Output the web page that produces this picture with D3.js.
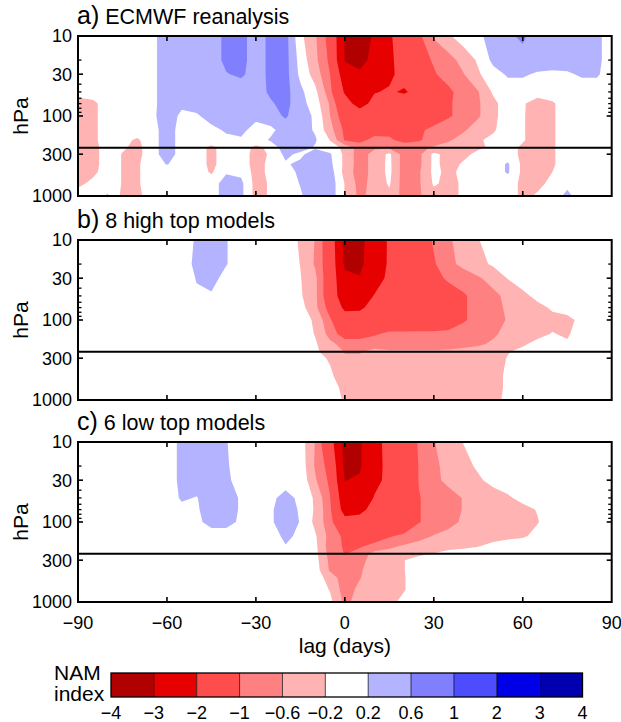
<!DOCTYPE html>
<html>
<head>
<meta charset="utf-8">
<script src="https://cdn.jsdelivr.net/npm/d3@7"></script>
<style>
  body { margin: 0; background: #fff; }
  svg { display: block; }
  text { font-family: "Liberation Sans", Arial, Helvetica, sans-serif; fill: #000; }
</style>
</head>
<body>
<svg id="chart" width="621" height="722"></svg>
<script>
// grid columns (lag, days) and rows (pressure, hPa, top to bottom)
const lags = [-90, -85, -80, -75, -70, -65, -60, -55, -50, -45, -40, -35, -30, -25, -20, -15, -10, -5,
              0, 5, 10, 15, 20, 25, 30, 35, 40, 45, 50, 55, 60, 65, 70, 75, 80, 85, 90];
const levels = [10, 20, 30, 50, 70, 100, 150, 200, 250, 300, 400, 500, 700, 1000];

// NAM index composites, one row per level
const ecmwf = [
  [0, 0, 0, 0, 0, 0.1, 0.4, 0.45, 0.45, 0.4, 0.7, 0.7, 0.45, 0.68, 0.75, -0.1, -0.55, -1.2, -3.05, -3.4, -2.9, -2.1, -1.6, -1.1, -0.55, -0.25, 0, 0.1, 0.4, 0.55, 0.65, 0.45, 0.4, 0.4, 0.4, 0.3, 0],
  [0, 0, 0, 0, 0, 0.1, 0.4, 0.45, 0.45, 0.4, 0.7, 0.7, 0.45, 0.68, 0.75, 0.04, -0.5, -1.1, -3.05, -3.45, -2.59, -2.2, -1.55, -1.2, -0.95, -0.75, -0.45, -0.14, 0.3, 0.45, 0.5, 0.45, 0.4, 0.4, 0.4, 0.3, 0],
  [0, 0, 0, 0, 0, 0.1, 0.4, 0.45, 0.45, 0.45, 0.58, 0.66, 0.45, 0.68, 0.75, 0.1, -0.37, -1.0, -2.52, -2.8, -2.6, -2.2, -1.65, -1.3, -1.05, -0.8, -0.62, -0.25, 0.05, 0.25, 0.25, 0.15, 0.12, 0.15, 0.25, 0.25, 0],
  [0, 0, 0, 0, 0, 0.1, 0.4, 0.4, 0.4, 0.4, 0.4, 0.4, 0.45, 0.66, 0.74, 0.3, -0.1, -0.85, -2.1, -2.6, -2.05, -1.9, -2.1, -1.7, -1.4, -1.1, -0.8, -0.62, -0.15, 0, 0, 0, 0, 0, 0, 0, 0],
  [-0.4, -0.3, 0, 0, 0, 0.1, 0.4, 0.3, 0.35, 0.4, 0.4, 0.4, 0.4, 0.56, 0.72, 0.35, 0, -0.65, -1.6, -2.4, -1.7, -1.6, -1.5, -1.5, -1.4, -1.05, -0.85, -0.65, -0.3, 0, -0.15, -0.4, -0.25, 0, 0, 0, 0],
  [-0.4, -0.3, 0, 0, 0, 0.1, 0.45, 0.1, 0.15, 0.35, 0.4, 0.4, 0.3, 0.45, 0.65, 0.35, 0.15, -0.6, -1.3, -1.4, -1.4, -1.35, -1.35, -1.4, -1.35, -1.05, -0.85, -0.65, -0.3, 0, -0.15, -0.45, -0.25, 0, 0, 0, 0],
  [-0.4, -0.3, 0, 0, 0, 0, 0.45, 0, 0, 0.1, 0.25, 0.3, 0.05, 0.1, 0.4, 0.4, 0.15, -0.45, -1.1, -1.25, -1.15, -1.1, -1.2, -1.1, -0.85, -0.75, -0.65, -0.4, -0.25, 0, -0.15, -0.45, -0.25, 0, 0, 0, 0],
  [-0.4, -0.3, 0, -0.1, -0.25, 0, 0.45, 0, 0, 0, 0.1, 0.15, 0, 0.25, 0.45, 0.4, 0.25, -0.22, -1.05, -1.1, -0.9, -0.95, -1.1, -1.05, -0.8, -0.65, -0.45, -0.25, -0.1, 0, -0.15, -0.45, -0.25, 0, 0, 0, 0],
  [-0.4, -0.35, 0, -0.15, -0.3, 0, 0.45, 0, 0, -0.3, 0, 0, -0.3, -0.1, 0.45, 0.4, 0.15, 0, -0.3, -0.8, -0.65, -0.65, -0.8, -0.7, -0.55, -0.4, -0.3, -0.25, -0.15, 0, -0.3, -0.45, -0.25, 0, 0, 0, 0],
  [-0.4, -0.35, 0, -0.22, -0.3, 0, 0.45, 0, 0, -0.3, 0, 0, -0.35, -0.15, 0.3, 0.1, 0.45, 0.25, -0.3, -0.8, -0.45, -0.12, -0.8, -0.7, -0.1, -0.35, -0.3, -0.1, 0, 0, -0.3, -0.45, -0.25, 0, 0, 0, 0],
  [-0.4, -0.35, 0, -0.22, -0.25, 0, 0.22, 0, 0, -0.3, 0, 0, -0.35, -0.1, 0.15, 0.3, 0.45, 0.3, -0.3, -0.8, -0.45, -0.1, -0.8, -0.7, -0.1, -0.35, -0.15, 0, 0, 0.25, -0.3, -0.45, -0.25, 0, 0, 0, 0],
  [-0.35, -0.3, 0, -0.22, -0.25, 0, 0, 0, 0, -0.25, 0.15, 0.1, -0.35, -0.1, 0, 0.3, 0.45, 0.4, -0.35, -0.8, -0.45, -0.1, -0.8, -0.65, -0.1, -0.3, -0.1, 0, 0, 0.25, -0.3, -0.4, -0.2, 0, 0, 0, 0],
  [-0.3, -0.1, 0, -0.22, -0.25, 0, 0, 0, 0, 0, 0.4, 0.3, -0.35, -0.15, 0, 0.22, 0.45, 0.45, -0.22, -0.75, -0.45, -0.15, -0.8, -0.65, -0.15, -0.3, -0.15, 0, 0, 0, -0.3, -0.3, -0.1, 0.1, 0, 0, 0],
  [0, 0, 0.25, -0.3, -0.3, 0, 0, 0, 0, 0, 0.4, 0.3, -0.35, -0.15, 0, 0.15, 0.45, 0.45, -0.22, -0.7, -0.45, -0.3, -0.75, -0.65, -0.35, -0.3, -0.15, 0, 0, 0, -0.3, -0.15, 0, 0.3, 0, 0, 0]
];

const highTop = [
  [0, 0, 0, 0, 0, 0, 0, 0, 0.25, 0.45, 0.22, 0, 0, 0, 0, -0.25, -0.62, -1.4, -3.3, -3.25, -2.5, -1.9, -1.6, -1.3, -0.95, -0.65, -0.45, -0.22, 0, 0, 0, 0, 0, 0, 0, 0, 0],
  [0, 0, 0, 0, 0, 0, 0, 0, 0.3, 0.45, 0.22, 0, 0, 0, 0, -0.21, -0.65, -1.35, -3.15, -3.2, -2.45, -1.9, -1.6, -1.35, -1.05, -0.7, -0.5, -0.3, -0.15, 0, 0, 0, 0, 0, 0, 0, 0],
  [0, 0, 0, 0, 0, 0, 0, 0, 0.22, 0.35, 0.05, 0, 0, 0, 0, -0.18, -0.5, -1.4, -2.8, -2.95, -2.4, -1.8, -1.6, -1.4, -1.2, -0.9, -0.8, -0.65, -0.45, -0.18, 0, 0, 0, 0, 0, 0, 0],
  [0, 0, 0, 0, 0, 0, 0, 0, 0.15, 0.15, 0, 0, 0, 0, 0, -0.15, -0.5, -1.4, -2.6, -2.5, -1.95, -1.7, -1.6, -1.5, -1.4, -1.3, -1.05, -0.85, -0.7, -0.5, -0.3, -0.1, 0, 0, 0, 0, 0],
  [0, 0, 0, 0, 0, 0, 0, 0, 0, 0, 0, 0, 0, 0, 0, -0.05, -0.5, -1.2, -2.2, -2.15, -1.7, -1.55, -1.5, -1.45, -1.4, -1.3, -1.05, -0.85, -0.7, -0.55, -0.4, -0.3, -0.15, -0.05, 0, 0, 0],
  [0, 0, 0, 0, 0, 0, 0, 0, 0, 0, 0, 0, 0, 0, 0, -0.05, -0.25, -0.95, -1.5, -1.55, -1.5, -1.45, -1.45, -1.4, -1.4, -1.3, -1.05, -0.85, -0.7, -0.58, -0.45, -0.4, -0.3, -0.3, -0.1, 0, 0],
  [0, 0, 0, 0, 0, 0, 0, 0, 0, 0, 0, 0, 0, 0, 0, 0, -0.22, -0.75, -1.25, -1.2, -1.05, -0.9, -0.9, -0.9, -0.9, -0.88, -0.8, -0.75, -0.65, -0.5, -0.4, -0.3, -0.18, -0.25, 0, 0, 0],
  [0, 0, 0, 0, 0, 0, 0, 0, 0, 0, 0, 0, 0, 0, 0, 0, -0.15, -0.5, -0.75, -0.8, -0.75, -0.75, -0.75, -0.75, -0.75, -0.72, -0.7, -0.65, -0.55, -0.4, -0.25, -0.1, 0, -0.15, 0, 0, 0],
  [0, 0, 0, 0, 0, 0, 0, 0, 0, 0, 0, 0, 0, 0, 0, 0, -0.12, -0.4, -0.62, -0.62, -0.5, -0.55, -0.55, -0.55, -0.55, -0.55, -0.5, -0.45, -0.35, -0.22, -0.1, 0, 0, 0, 0, 0, 0],
  [0, 0, 0, 0, 0, 0, 0, 0, 0, 0, 0, 0, 0, 0, 0, 0, -0.05, -0.25, -0.55, -0.55, -0.45, -0.45, -0.45, -0.45, -0.45, -0.45, -0.45, -0.45, -0.35, -0.18, 0, 0, 0, 0, 0, 0, 0],
  [0, 0, 0, 0, 0, 0, 0, 0, 0, 0, 0, 0, 0, 0, 0, 0, 0, -0.18, -0.45, -0.45, -0.45, -0.45, -0.45, -0.45, -0.45, -0.45, -0.45, -0.45, -0.35, -0.15, 0, 0, 0, 0, 0, 0, 0],
  [0, 0, 0, 0, 0, 0, 0, 0, 0, 0, 0, 0, 0, 0, 0, 0, 0, -0.12, -0.45, -0.45, -0.45, -0.45, -0.45, -0.45, -0.45, -0.45, -0.45, -0.45, -0.3, -0.15, 0, 0, 0, 0, 0, 0, 0],
  [0, 0, 0, 0, 0, 0, 0, 0, 0, 0, 0, 0, 0, 0, 0, 0, 0, -0.05, -0.3, -0.45, -0.45, -0.45, -0.45, -0.45, -0.45, -0.45, -0.45, -0.45, -0.3, -0.15, 0, 0, 0, 0, 0, 0, 0],
  [0, 0, 0, 0, 0, 0, 0, 0, 0, 0, 0, 0, 0, 0, 0, 0, 0, 0, -0.25, -0.4, -0.4, -0.4, -0.4, -0.4, -0.4, -0.4, -0.4, -0.4, -0.3, -0.12, 0, 0, 0, 0, 0, 0, 0]
];

const lowTop = [
  [0, 0, 0, 0, 0, 0, 0, 0.3, 0.4, 0.4, 0.22, 0, 0, 0, 0, 0, -0.62, -1.6, -3.3, -3.1, -2.3, -1.7, -1.4, -0.95, -0.62, -0.4, -0.19, 0, 0, 0, 0, 0, 0, 0, 0, 0, 0],
  [0, 0, 0, 0, 0, 0, 0, 0.3, 0.4, 0.4, 0.25, 0, 0, 0, 0, 0.05, -0.65, -1.2, -3.2, -3.1, -2.3, -1.75, -1.45, -0.98, -0.7, -0.45, -0.3, -0.15, 0, 0, 0, 0, 0, 0, 0, 0, 0],
  [0, 0, 0, 0, 0, 0, 0, 0.3, 0.4, 0.4, 0.3, 0, 0, 0, 0, 0.1, -0.55, -1.1, -3.02, -2.9, -2.2, -1.8, -1.5, -0.98, -0.7, -0.5, -0.38, -0.25, -0.1, 0, 0, 0, 0, 0, 0, 0, 0],
  [0, 0, 0, 0, 0, 0, 0, 0.25, 0.18, 0.4, 0.4, 0.15, 0, 0.1, 0.35, 0.1, -0.26, -0.98, -2.6, -2.55, -1.95, -1.6, -1.5, -1.02, -0.85, -0.75, -0.58, -0.45, -0.35, -0.25, -0.1, 0, 0, 0, 0, 0, 0],
  [0, 0, 0, 0, 0, 0, 0, 0.1, 0.15, 0.4, 0.4, 0.15, 0, 0.15, 0.4, 0.15, -0.25, -0.9, -2.4, -2.2, -1.75, -1.55, -1.45, -1.02, -0.85, -0.75, -0.58, -0.5, -0.4, -0.35, -0.3, -0.18, 0, 0, 0, 0, 0],
  [0, 0, 0, 0, 0, 0, 0, 0, 0.1, 0.35, 0.35, 0.12, 0, 0.15, 0.4, 0.18, -0.3, -0.85, -1.65, -1.7, -1.55, -1.55, -1.45, -1.02, -0.85, -0.7, -0.55, -0.5, -0.45, -0.4, -0.35, -0.22, 0, 0, 0, 0, 0],
  [0, 0, 0, 0, 0, 0, 0, 0, 0, 0, 0, 0, 0, 0, 0.3, 0.1, -0.15, -0.75, -1.1, -1.25, -1.2, -1.05, -0.9, -0.75, -0.58, -0.5, -0.45, -0.4, -0.35, -0.3, -0.25, -0.1, 0, 0, 0, 0, 0],
  [0, 0, 0, 0, 0, 0, 0, 0, 0, 0, 0, 0, 0, 0, 0.18, 0, -0.1, -0.8, -1.05, -1.05, -0.9, -0.7, -0.55, -0.45, -0.4, -0.35, -0.3, -0.22, -0.1, 0, 0, 0, 0, 0, 0, 0, 0],
  [0, 0, 0, 0, 0, 0, 0, 0, 0, 0, 0, 0, 0, 0, 0, 0, -0.08, -0.75, -1.02, -0.85, -0.45, -0.4, -0.35, -0.3, -0.18, -0.05, 0, 0, 0, 0, 0, 0, 0, 0, 0, 0, 0],
  [0, 0, 0, 0, 0, 0, 0, 0, 0, 0, 0, 0, 0, 0, 0, 0, -0.05, -0.7, -0.85, -0.75, -0.4, -0.35, -0.21, 0, 0, 0, 0, 0, 0, 0, 0, 0, 0, 0, 0, 0, 0],
  [0, 0, 0, 0, 0, 0, 0, 0, 0, 0, 0, 0, 0, 0, 0, 0, 0, -0.65, -0.85, -0.65, -0.4, -0.35, -0.21, 0, 0, 0, 0, 0, 0, 0, 0, 0, 0, 0, 0, 0, 0],
  [0, 0, 0, 0, 0, 0, 0, 0, 0, 0, 0, 0, 0, 0, 0, 0, 0, -0.35, -0.85, -0.62, -0.4, -0.35, -0.22, 0, 0, 0, 0, 0, 0, 0, 0, 0, 0, 0, 0, 0, 0],
  [0, 0, 0, 0, 0, 0, 0, 0, 0, 0, 0, 0, 0, 0, 0, 0, 0, -0.22, -0.8, -0.5, -0.4, -0.35, -0.22, 0, 0, 0, 0, 0, 0, 0, 0, 0, 0, 0, 0, 0, 0],
  [0, 0, 0, 0, 0, 0, 0, 0, 0, 0, 0, 0, 0, 0, 0, 0, 0, -0.1, -0.7, -0.45, -0.35, -0.3, -0.1, 0, -0.25, 0, 0, 0, 0, 0, 0, 0, 0, 0, 0, 0, 0]
];

const panelTags = ["a)", "b)", "c)"];
const panelNames = ["ECMWF reanalysis", "8 high top models", "6 low top models"];
const panelGrids = [ecmwf, highTop, lowTop];

const bandEdges = [-4, -3, -2, -1, -0.6, -0.2, 0.2, 0.6, 1, 2, 3, 4];
const bandColors = ["#b00000", "#e60000", "#ff4d4d", "#ff8080", "#ffb3b3", "#ffffff",
                    "#b3b3ff", "#8080ff", "#4d4dff", "#0000e6", "#0000b0"];
const xTicks = [-90, -60, -30, 0, 30, 60, 90];
const yTicks = [10, 30, 100, 300, 1000];
const yMinorTicks = [20, 40, 50, 60, 70, 80, 90];
const refLevel = 250;

const svg = d3.select("#chart");
const left = 78, right = 611.7, plotH = 160;
const tops = [36, 240, 442];

const x = d3.scaleLinear().domain([-90, 90]).range([left, right]);
const fmt = v => String(v).replace("-", "\u2212");

const contours = d3.contours().size([lags.length, levels.length]);
// contour coordinates put grid value i at i + 0.5
const colToLag = d3.scaleLinear().domain([0.5, lags.length - 0.5]).range([lags[0], lags[lags.length - 1]]);

function drawPanel(grid, i) {
    const top = tops[i];
    const y = d3.scaleLog().domain([10, 1000]).range([top, top + plotH]);
    const rowToY = d3.scaleLinear().domain(levels.map((_, k) => k + 0.5)).range(levels.map(p => y(p)));
    const toPath = mp => mp.coordinates.map(poly => poly.map(ring =>
        "M" + ring.map(p => x(colToLag(p[0])).toFixed(2) + "," + rowToY(p[1]).toFixed(2)).join("L") + "Z"
    ).join("")).join("");

    svg.append("clipPath").attr("id", "clip" + i)
        .append("rect").attr("x", left).attr("y", top).attr("width", right - left).attr("height", plotH);

    const field = svg.append("g").attr("clip-path", `url(#clip${i})`);
    const values = grid.flat();
    const negValues = values.map(v => -v);

    // red side: value <= edge, widest band first
    for (let j = 5; j >= 1; j--) {
        field.append("path")
            .attr("d", toPath(contours.contour(negValues, -bandEdges[j])))
            .attr("fill", bandColors[j - 1])
            .attr("fill-rule", "evenodd");
    }
    // blue side: value >= edge
    for (let j = 6; j <= 10; j++) {
        field.append("path")
            .attr("d", toPath(contours.contour(values, bandEdges[j])))
            .attr("fill", bandColors[j])
            .attr("fill-rule", "evenodd");
    }

    const axes = svg.append("g").attr("stroke", "#000").attr("fill", "none");
    axes.append("line")
        .attr("x1", left).attr("x2", right).attr("y1", y(refLevel)).attr("y2", y(refLevel))
        .attr("stroke-width", 2);

    xTicks.slice(1, -1).forEach(t => {
        axes.append("line").attr("x1", x(t)).attr("x2", x(t))
            .attr("y1", top + plotH).attr("y2", top + plotH - 5).attr("stroke-width", 1.6);
        axes.append("line").attr("x1", x(t)).attr("x2", x(t))
            .attr("y1", top).attr("y2", top + 5).attr("stroke-width", 1.6);
    });
    yTicks.slice(1, -1).forEach(t => {
        axes.append("line").attr("x1", left).attr("x2", left + 5)
            .attr("y1", y(t)).attr("y2", y(t)).attr("stroke-width", 1.6);
        axes.append("line").attr("x1", right).attr("x2", right - 5)
            .attr("y1", y(t)).attr("y2", y(t)).attr("stroke-width", 1.6);
    });
    yMinorTicks.forEach(t => {
        axes.append("line").attr("x1", left).attr("x2", left + 3.5)
            .attr("y1", y(t)).attr("y2", y(t)).attr("stroke-width", 1.3);
        axes.append("line").attr("x1", right).attr("x2", right - 3.5)
            .attr("y1", y(t)).attr("y2", y(t)).attr("stroke-width", 1.3);
    });

    axes.append("rect")
        .attr("x", left).attr("y", top).attr("width", right - left).attr("height", plotH)
        .attr("stroke-width", 2);

    svg.append("g").selectAll("text").data(yTicks).enter().append("text")
        .attr("x", left - 6).attr("y", d => y(d)).attr("dy", "0.36em")
        .attr("text-anchor", "end").attr("font-size", 18)
        .text(d => d);

    svg.append("text")
        .attr("transform", `translate(28,${top + plotH / 2}) rotate(-90)`)
        .attr("text-anchor", "middle").attr("font-size", 21)
        .text("hPa");

    const title = svg.append("text").attr("x", left - 1).attr("y", top - 12.5);
    title.append("tspan").attr("font-size", 25).text(panelTags[i]);
    title.append("tspan").attr("font-size", 21.5).text(" " + panelNames[i]);

    if (i === panelGrids.length - 1) {
        svg.append("g").selectAll("text").data(xTicks).enter().append("text")
            .attr("x", d => x(d)).attr("y", top + plotH + 27)
            .attr("text-anchor", "middle").attr("font-size", 18)
            .text(d => fmt(d));
        svg.append("text")
            .attr("x", x(0)).attr("y", top + plotH + 51)
            .attr("text-anchor", "middle").attr("font-size", 21)
            .text("lag (days)");
    }
}

panelGrids.forEach(drawPanel);

// colour bar
const barX0 = 111, barX1 = 582.5, barY = 673, barH = 24;
const bx = d3.scaleLinear().domain([0, bandColors.length]).range([barX0, barX1]);
const bar = svg.append("g");
bar.selectAll("rect.cell").data(bandColors).enter().append("rect")
    .attr("class", "cell")
    .attr("x", (d, k) => bx(k)).attr("y", barY)
    .attr("width", bx(1) - bx(0)).attr("height", barH)
    .attr("fill", d => d);
bar.selectAll("line.sep").data(d3.range(1, bandColors.length)).enter().append("line")
    .attr("class", "sep")
    .attr("x1", k => bx(k)).attr("x2", k => bx(k))
    .attr("y1", barY).attr("y2", barY + barH)
    .attr("stroke", "#000").attr("stroke-width", 0.7);
bar.append("rect")
    .attr("x", barX0).attr("y", barY).attr("width", barX1 - barX0).attr("height", barH)
    .attr("fill", "none").attr("stroke", "#000").attr("stroke-width", 1.3);
bar.selectAll("text").data(bandEdges).enter().append("text")
    .attr("x", (d, k) => bx(k)).attr("y", 719)
    .attr("text-anchor", "middle").attr("font-size", 18)
    .text(d => fmt(d));
svg.append("text").attr("x", 54).attr("y", 680).attr("font-size", 21).text("NAM");
svg.append("text").attr("x", 54).attr("y", 701).attr("font-size", 21).text("index");
</script>
</body>
</html>
